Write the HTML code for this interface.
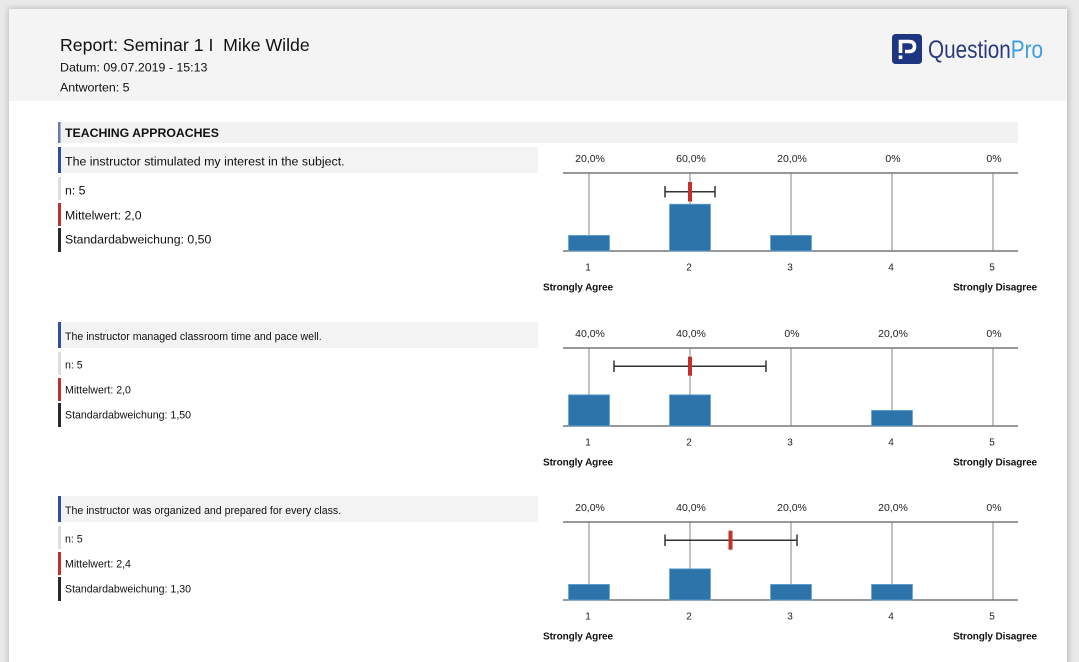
<!DOCTYPE html>
<html><head><meta charset="utf-8">
<style>
html,body{margin:0;padding:0;background:#e9e9e9;}
body{width:1079px;height:662px;overflow:hidden;position:relative;font-family:"Liberation Sans",Arial,sans-serif;}
svg{position:absolute;left:0;top:0;}
</style></head>
<body>
<svg width="1079" height="662" viewBox="0 0 1079 662" xmlns="http://www.w3.org/2000/svg" font-family="Liberation Sans, Arial, sans-serif">
<defs>
<filter id="sh" x="-5%" y="-5%" width="110%" height="110%"><feGaussianBlur stdDeviation="3"/></filter>
</defs>
<rect x="0" y="0" width="1079" height="662" fill="#e9e9e9"/>
<rect x="8" y="8" width="1061" height="670" fill="#000" opacity="0.18" filter="url(#sh)"/>
<rect x="9" y="9" width="1058" height="660" fill="#ffffff"/>
<rect x="9" y="9" width="1058" height="92" fill="#f4f4f4"/>

<!-- header -->
<text x="60" y="51" font-size="17.7" fill="#111">Report: Seminar 1 I&#160; Mike Wilde</text>
<text x="60" y="71.7" font-size="12.4" fill="#111">Datum: 09.07.2019 - 15:13</text>
<text x="60" y="91.7" font-size="12.4" fill="#111">Antworten: 5</text>

<!-- logo -->
<rect x="892" y="34" width="30" height="30" rx="3.5" fill="#1e3682"/>
<path d="M900.5,53 L900.5,41.5 L909,41.5 Q914.5,41.5 914.5,46.5 Q914.5,51.5 909,51.5 L905,51.5" fill="none" stroke="#fff" stroke-width="3.6"/>
<rect x="898.7" y="55.5" width="3.6" height="3.6" fill="#fff"/>
<text x="928" y="58" font-size="25" textLength="115" lengthAdjust="spacingAndGlyphs"><tspan fill="#2b3a7c">Question</tspan><tspan fill="#3c9ee2">Pro</tspan></text>

<!-- section header -->
<rect x="59" y="122" width="959" height="21" fill="#f2f2f2"/>
<rect x="58" y="122" width="2.5" height="21" fill="#6a78b4"/>
<text x="65" y="137" font-size="12.3" font-weight="bold" fill="#111">TEACHING APPROACHES</text>

<!-- ===== Section 1 (T=173) ===== -->
<g>
<rect x="58" y="147" width="480" height="26" fill="#f3f3f3"/>
<rect x="58" y="147" width="3" height="26" fill="#2d4ea3"/>
<text x="65" y="165.5" font-size="12.4" fill="#111">The instructor stimulated my interest in the subject.</text>
<rect x="58" y="177" width="3" height="23" fill="#dedede"/>
<text x="65" y="194.4" font-size="12.3" fill="#111">n: 5</text>
<rect x="58" y="203" width="3" height="23" fill="#c0312b"/>
<text x="65" y="219.4" font-size="12.3" fill="#111">Mittelwert: 2,0</text>
<rect x="58" y="228" width="3" height="24" fill="#2a2a2a"/>
<text x="65" y="243.4" font-size="12.3" fill="#111">Standardabweichung: 0,50</text>

<g font-size="10.5" fill="#222" text-anchor="middle">
<text x="590" y="162">20,0%</text><text x="691" y="162">60,0%</text><text x="792" y="162">20,0%</text><text x="893" y="162">0%</text><text x="994" y="162">0%</text>
</g>
<g stroke="#999" stroke-width="1.2">
<line x1="589" y1="173" x2="589" y2="251"/><line x1="690" y1="173" x2="690" y2="251"/><line x1="791" y1="173" x2="791" y2="251"/><line x1="892" y1="173" x2="892" y2="251"/><line x1="993" y1="173" x2="993" y2="251"/>
</g>
<g stroke="#777" stroke-width="1.4">
<line x1="563" y1="173" x2="1018" y2="173"/><line x1="563" y1="251" x2="1018" y2="251"/>
</g>
<g fill="#2c74a9" stroke="#6aa6d4" stroke-width="0.8">
<rect x="568.5" y="235.4" width="41" height="15.6"/>
<rect x="669.5" y="204.2" width="41" height="46.8"/>
<rect x="770.5" y="235.4" width="41" height="15.6"/>
</g>
<g stroke="#333" stroke-width="1.5">
<line x1="665" y1="191.7" x2="715" y2="191.7"/><line x1="665" y1="186" x2="665" y2="197.5"/><line x1="715" y1="186" x2="715" y2="197.5"/>
</g>
<rect x="688" y="182" width="4" height="19.5" fill="#c4312b"/>
<g font-size="10" fill="#222" text-anchor="middle">
<text x="588" y="270.5">1</text><text x="689" y="270.5">2</text><text x="790" y="270.5">3</text><text x="891" y="270.5">4</text><text x="992" y="270.5">5</text>
</g>
<text x="543" y="290.3" font-size="10" font-weight="bold" fill="#111" letter-spacing="-0.1">Strongly Agree</text>
<text x="1037" y="290.3" font-size="10" font-weight="bold" fill="#111" text-anchor="end" letter-spacing="-0.1">Strongly Disagree</text>
</g>

<!-- ===== Section 2 (T=348) ===== -->
<g transform="translate(0,175)">
<rect x="58" y="147" width="480" height="26" fill="#f3f3f3"/>
<rect x="58" y="147" width="3" height="26" fill="#2d4ea3"/>
<text x="65" y="164.8" font-size="10.6" fill="#111">The instructor managed classroom time and pace well.</text>
<rect x="58" y="177" width="3" height="23" fill="#dedede"/>
<text x="65" y="193.5" font-size="10.6" fill="#111">n: 5</text>
<rect x="58" y="203" width="3" height="23" fill="#c0312b"/>
<text x="65" y="218.5" font-size="10.6" fill="#111">Mittelwert: 2,0</text>
<rect x="58" y="228" width="3" height="24" fill="#2a2a2a"/>
<text x="65" y="243.5" font-size="10.6" fill="#111">Standardabweichung: 1,50</text>

<g font-size="10.5" fill="#222" text-anchor="middle">
<text x="590" y="162">40,0%</text><text x="691" y="162">40,0%</text><text x="792" y="162">0%</text><text x="893" y="162">20,0%</text><text x="994" y="162">0%</text>
</g>
<g stroke="#999" stroke-width="1.2">
<line x1="589" y1="173" x2="589" y2="251"/><line x1="690" y1="173" x2="690" y2="251"/><line x1="791" y1="173" x2="791" y2="251"/><line x1="892" y1="173" x2="892" y2="251"/><line x1="993" y1="173" x2="993" y2="251"/>
</g>
<g stroke="#777" stroke-width="1.4">
<line x1="563" y1="173" x2="1018" y2="173"/><line x1="563" y1="251" x2="1018" y2="251"/>
</g>
<g fill="#2c74a9" stroke="#6aa6d4" stroke-width="0.8">
<rect x="568.5" y="219.8" width="41" height="31.2"/>
<rect x="669.5" y="219.8" width="41" height="31.2"/>
<rect x="871.5" y="235.4" width="41" height="15.6"/>
</g>
<g stroke="#333" stroke-width="1.5">
<line x1="614" y1="191.3" x2="766" y2="191.3"/><line x1="614" y1="185.5" x2="614" y2="197"/><line x1="766" y1="185.5" x2="766" y2="197"/>
</g>
<rect x="688" y="181.7" width="4" height="19" fill="#c4312b"/>
<g font-size="10" fill="#222" text-anchor="middle">
<text x="588" y="270.5">1</text><text x="689" y="270.5">2</text><text x="790" y="270.5">3</text><text x="891" y="270.5">4</text><text x="992" y="270.5">5</text>
</g>
<text x="543" y="290.3" font-size="10" font-weight="bold" fill="#111" letter-spacing="-0.1">Strongly Agree</text>
<text x="1037" y="290.3" font-size="10" font-weight="bold" fill="#111" text-anchor="end" letter-spacing="-0.1">Strongly Disagree</text>
</g>

<!-- ===== Section 3 (T=522) ===== -->
<g transform="translate(0,349)">
<rect x="58" y="147" width="480" height="26" fill="#f3f3f3"/>
<rect x="58" y="147" width="3" height="26" fill="#2d4ea3"/>
<text x="65" y="164.8" font-size="10.6" fill="#111">The instructor was organized and prepared for every class.</text>
<rect x="58" y="177" width="3" height="23" fill="#dedede"/>
<text x="65" y="193.5" font-size="10.6" fill="#111">n: 5</text>
<rect x="58" y="203" width="3" height="23" fill="#c0312b"/>
<text x="65" y="218.5" font-size="10.6" fill="#111">Mittelwert: 2,4</text>
<rect x="58" y="228" width="3" height="24" fill="#2a2a2a"/>
<text x="65" y="243.5" font-size="10.6" fill="#111">Standardabweichung: 1,30</text>

<g font-size="10.5" fill="#222" text-anchor="middle">
<text x="590" y="162">20,0%</text><text x="691" y="162">40,0%</text><text x="792" y="162">20,0%</text><text x="893" y="162">20,0%</text><text x="994" y="162">0%</text>
</g>
<g stroke="#999" stroke-width="1.2">
<line x1="589" y1="173" x2="589" y2="251"/><line x1="690" y1="173" x2="690" y2="251"/><line x1="791" y1="173" x2="791" y2="251"/><line x1="892" y1="173" x2="892" y2="251"/><line x1="993" y1="173" x2="993" y2="251"/>
</g>
<g stroke="#777" stroke-width="1.4">
<line x1="563" y1="173" x2="1018" y2="173"/><line x1="563" y1="251" x2="1018" y2="251"/>
</g>
<g fill="#2c74a9" stroke="#6aa6d4" stroke-width="0.8">
<rect x="568.5" y="235.4" width="41" height="15.6"/>
<rect x="669.5" y="219.8" width="41" height="31.2"/>
<rect x="770.5" y="235.4" width="41" height="15.6"/>
<rect x="871.5" y="235.4" width="41" height="15.6"/>
</g>
<g stroke="#333" stroke-width="1.5">
<line x1="665" y1="191.3" x2="797" y2="191.3"/><line x1="665" y1="185.5" x2="665" y2="197"/><line x1="797" y1="185.5" x2="797" y2="197"/>
</g>
<rect x="728.5" y="181.7" width="4" height="19" fill="#c4312b"/>
<g font-size="10" fill="#222" text-anchor="middle">
<text x="588" y="270.5">1</text><text x="689" y="270.5">2</text><text x="790" y="270.5">3</text><text x="891" y="270.5">4</text><text x="992" y="270.5">5</text>
</g>
<text x="543" y="290.3" font-size="10" font-weight="bold" fill="#111" letter-spacing="-0.1">Strongly Agree</text>
<text x="1037" y="290.3" font-size="10" font-weight="bold" fill="#111" text-anchor="end" letter-spacing="-0.1">Strongly Disagree</text>
</g>
</svg>
</body></html>
